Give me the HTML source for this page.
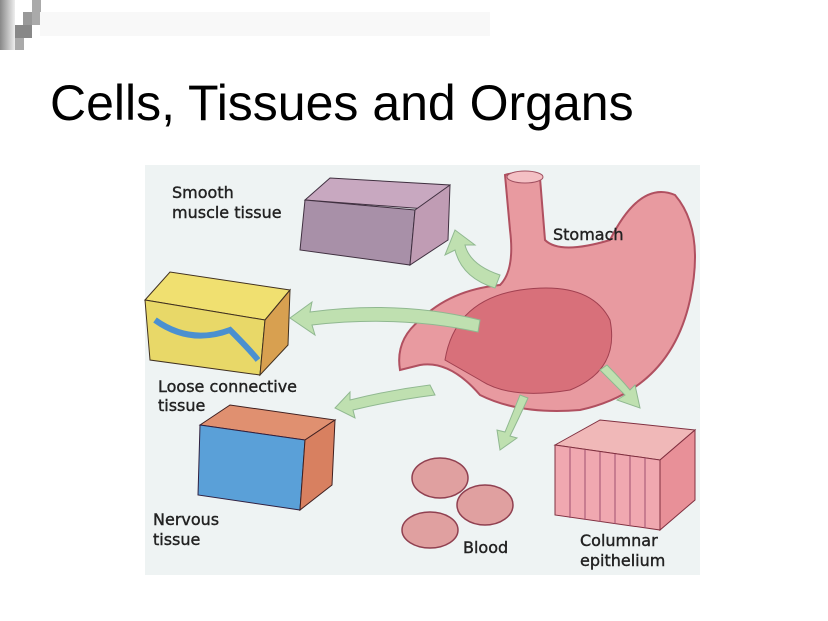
<!DOCTYPE html>
<html><head><meta charset="utf-8"><style>
body{margin:0;width:828px;height:621px;background:#fff;overflow:hidden;position:relative;font-family:"Liberation Sans",sans-serif}
.t{position:absolute;left:50px;top:74px;font-size:50px;color:#000;white-space:nowrap}
</style></head><body>
<div style="position:absolute;left:0;top:0;width:15px;height:50px;background:linear-gradient(90deg,#888,#eee)"></div>
<div style="position:absolute;left:23px;top:12px;width:17px;height:13px;background:#999"></div>
<div style="position:absolute;left:32px;top:0;width:9px;height:25px;background:#aaa"></div>
<div style="position:absolute;left:15px;top:25px;width:17px;height:13px;background:#888"></div>
<div style="position:absolute;left:15px;top:38px;width:9px;height:12px;background:#aaa"></div>
<div style="position:absolute;left:40px;top:12px;width:450px;height:24px;background:#f8f8f8"></div>
<div class="t">Cells, Tissues and Organs</div>
<svg style="position:absolute;left:0;top:0" width="828" height="621">
<rect x="145" y="165" width="555" height="410" fill="#eef3f3"/>
<path d="M505 175 Q520 170 540 178 L545 240 Q560 255 610 240 Q640 180 675 195 Q705 230 690 300 Q670 390 580 410 Q520 415 480 395 Q450 360 420 365 L400 370 Q395 340 420 320 Q450 290 500 285 Q515 270 510 230 Z" fill="#e89aa0" stroke="#b05060" stroke-width="2"/>
<path d="M445 360 Q455 300 520 290 Q590 280 610 320 Q620 370 570 390 Q510 400 480 380 Z" fill="#d8707a" stroke="#a04050"/>
<ellipse cx="525" cy="177" rx="18" ry="6" fill="#f4c0c4" stroke="#a05060"/>
<path d="M305 200 L330 178 L450 185 L440 210 Z" fill="#c8a8c0" stroke="#403040"/>
<path d="M305 200 L415 210 L410 265 L300 250 Z" fill="#a890a8" stroke="#403040"/>
<path d="M415 210 L450 185 L448 240 L410 265 Z" fill="#c09cb4" stroke="#403040"/>
<path d="M145 300 L170 272 L290 290 L265 320 Z" fill="#f0e070" stroke="#403020"/>
<path d="M145 300 L265 320 L260 375 L150 360 Z" fill="#e8d868" stroke="#403020"/>
<path d="M265 320 L290 290 L288 345 L260 375 Z" fill="#d8a050" stroke="#403020"/>
<path d="M155 320 Q190 345 230 330 Q250 350 258 360" stroke="#4a90d0" stroke-width="6" fill="none"/>
<path d="M200 425 L230 405 L335 420 L305 440 Z" fill="#e09070" stroke="#402020"/>
<path d="M200 425 L305 440 L300 510 L198 495 Z" fill="#5aa0d8" stroke="#302040"/>
<path d="M305 440 L335 420 L332 485 L300 510 Z" fill="#d88060" stroke="#402020"/>
<ellipse cx="440" cy="478" rx="28" ry="20" fill="#e0a0a0" stroke="#904050" stroke-width="1.5"/>
<ellipse cx="485" cy="505" rx="28" ry="20" fill="#e0a0a0" stroke="#904050" stroke-width="1.5"/>
<ellipse cx="430" cy="530" rx="28" ry="18" fill="#e0a0a0" stroke="#904050" stroke-width="1.5"/>
<path d="M555 445 L600 420 L695 430 L660 460 Z" fill="#f0b8b8" stroke="#803040"/>
<path d="M555 445 L660 460 L660 530 L555 515 Z" fill="#f0a8b0" stroke="#803040"/>
<path d="M660 460 L695 430 L695 500 L660 530 Z" fill="#e89098" stroke="#803040"/>
<g stroke="#a05070" fill="none"><path d="M570 448 V518 M585 450 V520 M600 452 V522 M615 454 V524 M630 456 V526 M645 458 V528"/></g>
<g fill="#bfe0b0" stroke="#90b890">
<path d="M500 275 Q470 265 465 245 L475 245 L455 230 L445 255 L455 250 Q462 278 495 288 Z"/>
<path d="M480 320 Q400 300 310 312 L312 302 L290 318 L315 335 L312 325 Q400 315 478 332 Z"/>
<path d="M430 385 Q390 390 350 400 L350 392 L335 408 L355 418 L353 410 Q395 400 435 395 Z"/>
<path d="M520 395 Q510 420 505 432 L497 430 L500 450 L517 438 L510 436 Q518 420 528 398 Z"/>
<path d="M600 370 Q615 385 625 395 L617 400 L640 408 L635 385 L630 390 Q620 378 607 365 Z"/>
</g>
<g font-family="DejaVu Sans,sans-serif" font-size="16" fill="#222" stroke="#222" stroke-width="0.4">
<text x="172" y="198">Smooth</text><text x="172" y="218">muscle tissue</text>
<text x="553" y="240">Stomach</text>
<text x="158" y="392">Loose connective</text><text x="158" y="411">tissue</text>
<text x="153" y="525">Nervous</text><text x="153" y="545">tissue</text>
<text x="463" y="553">Blood</text>
<text x="580" y="546">Columnar</text><text x="580" y="566">epithelium</text>
</g>
</svg>
</body></html>
